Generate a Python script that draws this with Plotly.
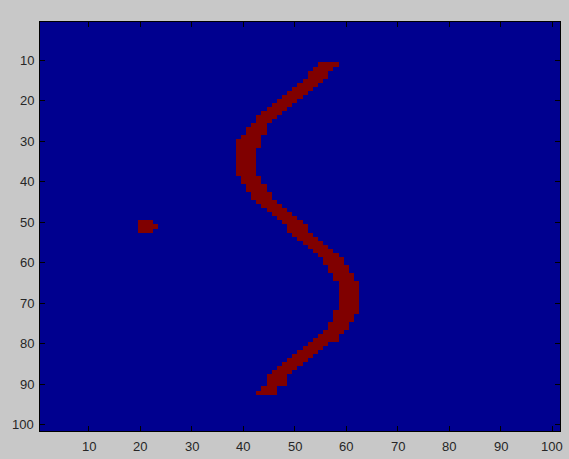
import plotly.graph_objects as go

N = 101
tick_vals = [10, 20, 30, 40, 50, 60, 70, 80, 90, 100]
tick_text = ['10', '20', '30', '40', '50', '60', '70', '80', '90', '100']

# curve rows (image row index) with left/right red column extents
curve_rows = list(range(11, 93))
curve_left = [55, 54, 53, 53, 52, 51, 50, 49, 48, 47,
              46, 45, 44, 43, 43, 42, 41, 41, 40, 39,
              39, 39, 39, 39, 39, 39, 39, 39, 40, 40,
              41, 41, 42, 42, 43, 44, 45, 46, 47, 48,
              49, 49, 50, 51, 52, 53, 54, 55, 56, 56,
              57, 57, 58, 58, 59, 59, 59, 59, 59, 59,
              59, 58, 58, 58, 57, 57, 56, 55, 54, 53,
              52, 51, 50, 49, 48, 47, 46, 45, 45, 45,
              44, 43]
curve_right = [58, 57, 56, 56, 55, 54, 53, 52, 51, 50,
               49, 48, 47, 46, 45, 44, 44, 44, 43, 43,
               43, 42, 42, 42, 42, 42, 42, 42, 43, 43,
               44, 44, 45, 45, 46, 47, 48, 49, 50, 51,
               52, 52, 53, 54, 55, 56, 57, 58, 59, 59,
               60, 60, 61, 61, 62, 62, 62, 62, 62, 62,
               62, 62, 61, 61, 60, 60, 59, 58, 58, 56,
               55, 54, 53, 52, 51, 50, 49, 48, 48, 48,
               46, 46]

# small blob pixels (row, col)
blob_rows = [50, 50, 50, 51, 51, 51, 51, 52, 52, 52]
blob_cols = [20, 21, 22, 20, 21, 22, 23, 20, 21, 22]

z = [[0] * N for _ in range(N)]
for r, a, b in zip(curve_rows, curve_left, curve_right):
    for c in range(a, b + 1):
        z[r - 1][c - 1] = 1
for r, c in zip(blob_rows, blob_cols):
    z[r - 1][c - 1] = 1

idx = list(range(1, N + 1))

fig = go.Figure(go.Heatmap(
    z=z, x=idx, y=idx,
    colorscale=[[0, '#00008F'], [1, '#800000']],
    showscale=False, zmin=0, zmax=1, hoverinfo='skip'))

label_font = dict(family='Liberation Sans, Arial, sans-serif', size=13, color='#262626')

axis_common = dict(
    showgrid=False, zeroline=False, showline=True, linecolor='black',
    linewidth=1, ticks='inside', ticklen=5, tickcolor='black',
    mirror='ticks', tickvals=tick_vals, showticklabels=False)

annotations = []
for v, t in zip(tick_vals, tick_text):
    annotations.append(dict(x=0, xref='paper', y=v, yref='y', text=t,
                            showarrow=False, xanchor='right', yanchor='middle',
                            xshift=-4, font=label_font))
    annotations.append(dict(x=v, xref='x', y=0, yref='paper', text=t,
                            showarrow=False, xanchor='center', yanchor='top',
                            yshift=-6, font=label_font))

fig.update_layout(
    width=569, height=459, autosize=False,
    paper_bgcolor='#C8C8C8', plot_bgcolor='#00008F',
    margin=dict(l=40, r=9, t=22, b=28),
    xaxis=dict(range=[0.5, 101.5], **axis_common),
    yaxis=dict(range=[101.5, 0.5], **axis_common),
    annotations=annotations,
)

fig.write_html("out.html", config={'displayModeBar': False},
               post_script="document.body.style.margin='0';document.body.style.background='#C8C8C8';")
